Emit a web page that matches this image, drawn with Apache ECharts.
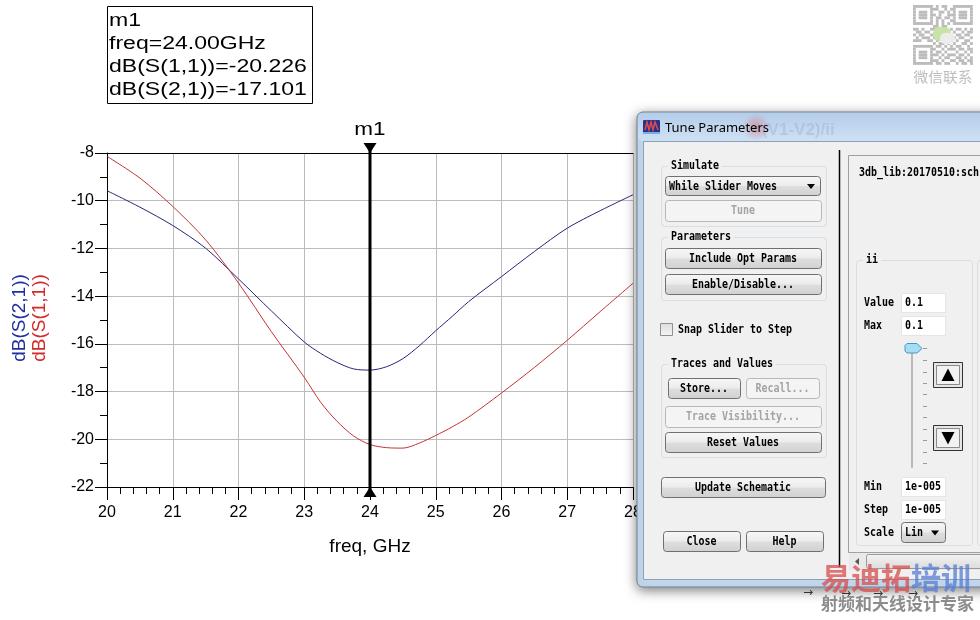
<!DOCTYPE html>
<html><head><meta charset="utf-8">
<script src="https://cdn.jsdelivr.net/npm/echarts@6/dist/echarts.min.js"></script>
<style>html,body{margin:0;padding:0;background:#fff}#c{width:980px;height:620px}</style>
</head><body><div id="c"></div>
<script>
// ---- data ----
const freqGHz = [20, 20.5, 21, 21.5, 22, 22.5, 23, 23.25, 23.5, 23.75, 24, 24.25, 24.5, 24.75, 25, 25.25, 25.5, 26, 26.5, 27, 27.5, 28];
const dB_S21 = [-9.58, -10.27, -11.04, -11.99, -13.28, -14.62, -15.92, -16.40, -16.78, -17.05, -17.10, -16.96, -16.62, -16.08, -15.45, -14.85, -14.23, -13.18, -12.13, -11.15, -10.42, -9.75];
const dB_S11 = [-8.14, -9.05, -10.24, -11.64, -13.45, -15.49, -17.40, -18.45, -19.25, -19.86, -20.22, -20.35, -20.37, -20.16, -19.84, -19.48, -19.07, -18.06, -16.99, -15.85, -14.65, -13.46];
const xRange = [20, 28];
const yRange = [-22, -8];
const markerFreq = 24;
const markerName = 'm1';
const markerLines = ['m1', 'freq=24.00GHz', 'dB(S(1,1))=-20.226', 'dB(S(2,1))=-17.101'];
const yTitles = ['dB(S(2,1))', 'dB(S(1,1))'];
const xTitle = 'freq, GHz';

const SANS = '"Liberation Sans", Arial, sans-serif';
const MONO = '"DejaVu Sans Mono", monospace';
const CJK = '"Noto Sans CJK SC", sans-serif';
const BLUE = '#25257c', RED = '#c23434';

const chart = echarts.init(document.getElementById('c'), null, {renderer: 'canvas'});
const axisBlack = {color: '#000', width: 1};
chart.setOption({
  animation: false,
  backgroundColor: '#fff',
  grid: {left: 107, top: 153, right: 347, bottom: 133, containLabel: false, outerBoundsMode: 'none'},
  xAxis: [{
    type: 'value', min: xRange[0], max: xRange[1], interval: 1, position: 'bottom',
    axisLine: {show: true, onZero: false, lineStyle: axisBlack},
    axisTick: {show: true, length: 13, lineStyle: axisBlack},
    minorTick: {show: true, splitNumber: 5, length: 7, lineStyle: axisBlack},
    axisLabel: {color: '#000', fontSize: 16, fontFamily: SANS, margin: 18},
    splitLine: {show: true, lineStyle: {color: '#bcbcbc', width: 1}},
    minorSplitLine: {show: false},
    name: xTitle, nameLocation: 'middle', nameGap: 50,
    nameTextStyle: {color: '#000', fontSize: 19, fontFamily: SANS}
  }, {
    type: 'value', min: xRange[0], max: xRange[1], position: 'top',
    axisLine: {show: true, onZero: false, lineStyle: axisBlack},
    axisTick: {show: false}, axisLabel: {show: false}, splitLine: {show: false}
  }],
  yAxis: {
    type: 'value', min: yRange[0], max: yRange[1], interval: 2,
    axisLine: {show: true, onZero: false, lineStyle: axisBlack},
    axisTick: {show: true, length: 12, lineStyle: axisBlack},
    minorTick: {show: true, splitNumber: 2, length: 7, lineStyle: axisBlack},
    axisLabel: {color: '#000', fontSize: 16, fontFamily: SANS, margin: 13},
    splitLine: {show: true, lineStyle: {color: '#bcbcbc', width: 1}},
    minorSplitLine: {show: false}
  },
  series: [{
    name: 'dB(S(2,1))', type: 'line', data: freqGHz.map((f, i) => [f, dB_S21[i]]),
    smooth: 0.3, symbol: 'none', lineStyle: {color: BLUE, width: 1}, itemStyle: {color: BLUE}, z: 3
  }, {
    name: 'dB(S(1,1))', type: 'line', data: freqGHz.map((f, i) => [f, dB_S11[i]]),
    smooth: 0.3, symbol: 'none', lineStyle: {color: RED, width: 1}, itemStyle: {color: RED}, z: 3
  }]
});

// ---- graphics ----
const G = [];
let z2 = 0;
function push(el, z) { el.z = z == null ? 100 : z; el.z2 = z2++; G.push(el); }
function rect(x, y, w, h, style, r, z) { push({type: 'rect', shape: {x, y, width: w, height: h, r: r || 0}, style}, z); }
function line(x1, y1, x2, y2, stroke, lw, z) { push({type: 'line', shape: {x1, y1, x2, y2}, style: {stroke, lineWidth: lw || 1}}, z); }
function poly(points, style, z) { push({type: 'polygon', shape: {points}, style}, z); }
function text(x, y, s, o, z) {
  o = o || {};
  const al = o.align || 'left';
  const st = {text: s, fill: o.fill || '#000', fontSize: o.size || 12, fontFamily: o.family || MONO,
      fontWeight: o.weight || (o.family ? 'normal' : 'bold'), align: al, verticalAlign: 'middle', textAlign: al, textVerticalAlign: 'middle'};
  if (o.blur) { st.textShadowBlur = o.blur; st.textShadowColor = o.fill; }
  push({type: 'text', x, y, rotation: o.rot || 0, scaleX: o.sx == null ? 0.83 : o.sx, style: st}, z);
}
function grad(c) { return new echarts.graphic.LinearGradient(0, 0, 0, 1, c.map((col, i) => ({offset: i / (c.length - 1), color: col}))); }
function btnFill() { return new echarts.graphic.LinearGradient(0, 0, 0, 1, [
  {offset: 0, color: '#f7f7f7'}, {offset: 0.48, color: '#ececec'}, {offset: 0.52, color: '#dedede'}, {offset: 1, color: '#d0d0d0'}]); }
function button(x, y, w, h, label, disabled) {
  rect(x + .5, y + .5, w, h, {fill: disabled ? '#f4f4f4' : btnFill(), stroke: disabled ? '#b5b9bc' : '#707070', lineWidth: 1}, 3);
  text(x + w / 2, y + h / 2 + 0.5, label, {align: 'center', fill: disabled ? '#a3a3a3' : '#000'});
}
function group(x, y, w, h, label) {
  rect(x + .5, y + .5, w, h, {fill: 'none', stroke: '#d5dfe5', lineWidth: 1}, 3);
  rect(x + 7, y - 6, label.length * 6 + 6, 12, {fill: '#f0f0f0'});
  text(x + 10, y, label);
}
function input(x, y, w, h, val) {
  rect(x + .5, y + .5, w, h, {fill: '#fff', stroke: '#e2e6ea', lineWidth: 1});
  text(x + 4, y + h / 2 + 0.5, val);
}

// marker (positions from the chart's own scales)
const pTop = chart.convertToPixel({gridIndex: 0}, [markerFreq, yRange[1]]);
const pBot = chart.convertToPixel({gridIndex: 0}, [markerFreq, yRange[0]]);
const mx = pTop[0];
line(mx, pTop[1] - 10, mx, pBot[1] + 10, '#000', 3, 10);
poly([[mx - 6.5, pTop[1] - 10], [mx + 6.5, pTop[1] - 10], [mx, pTop[1]]], {fill: '#000'}, 10);
poly([[mx - 6.5, pBot[1] + 10], [mx + 6.5, pBot[1] + 10], [mx, pBot[1]]], {fill: '#000'}, 10);
text(mx, pTop[1] - 23, markerName, {family: SANS, size: 18, sx: 1.25, align: 'center'}, 10);

// marker readout box
rect(107.5, 6.5, 205, 97, {fill: '#fff', stroke: '#000', lineWidth: 1}, null, 10);
const boxY = [21.5, 44.5, 67.5, 90.5];
markerLines.forEach((s, i) => text(109, boxY[i], s, {family: SANS, size: 18, sx: 1.28}, 10));

// y titles
text(19.5, 318, yTitles[0], {family: SANS, size: 19, sx: 1, rot: Math.PI / 2, align: 'center', fill: '#1f2fa3'}, 10);
text(40, 318, yTitles[1], {family: SANS, size: 19, sx: 1, rot: Math.PI / 2, align: 'center', fill: '#d42a2a'}, 10);

// QR code decoration (top-right)
const qr = [
 '111111101011001111111','100000111001011000001','101110100110101011101','101110110100111011101',
 '101110101101101011101','100000101010011000001','111111101010101111111','000000011011000000000',
 '110100111010010110101','011011001101101001011','101100110011010110110','010111010100101011001',
 '111001101011110100110','000000010110101001101','111111101101010110010','100000110010111011011',
 '101110101101000100101','101110111010111011010','101110100101100110101','100000111010011011011',
 '111111101101100101101'];
const qs = 2.85;
qr.forEach((row, r) => {
  let c = 0;
  while (c < row.length) {
    if (row[c] === '1') { let e = c; while (e < row.length && row[e] === '1') e++;
      rect(913 + c * qs, 5 + r * qs, (e - c) * qs, qs, {fill: '#bcbcbc'}, 0, 5); c = e; } else c++;
  }
});
rect(933, 27, 18, 14, {fill: '#c9e2a6'}, 6, 6);
rect(940, 33, 15, 11, {fill: '#ececec'}, 5, 6);
text(943, 77, '微信联系', {family: CJK, size: 14, sx: 1.05, align: 'center', fill: '#bdbdbd'}, 5);

// ---- Tune Parameters dialog ----
rect(637, 112, 360, 475, {fill: '#c6daef', stroke: '#6f8399', lineWidth: 1, shadowBlur: 12, shadowColor: 'rgba(0,0,0,0.5)', shadowOffsetY: 3}, 6);
rect(638, 113, 350, 28, {fill: grad(['#b4cdea', '#c2d7ef', '#cfe0f3'])}, 5);
rect(724, 113, 64, 28, {fill: new echarts.graphic.RadialGradient(0.5, 0.5, 0.5, [
  {offset: 0, color: 'rgba(214,110,116,0.55)'}, {offset: 0.6, color: 'rgba(214,120,126,0.25)'}, {offset: 1, color: 'rgba(214,130,136,0)'}])});
text(752, 130, '=(V1-V2)/ii', {family: SANS, size: 17, sx: 1, weight: 'bold', fill: 'rgba(70,80,130,0.13)', blur: 6});
rect(643, 120, 17, 14, {fill: '#25338f'}, 1);
push({type: 'polyline', shape: {points: [[645, 130], [647, 122], [649, 130], [651, 122], [653, 130], [655, 122], [658, 130]]}, style: {stroke: '#e24a4a', lineWidth: 1.5, fill: 'none'}});
line(643, 133, 660, 133, '#6fb2e8', 2);
text(665, 128, 'Tune Parameters', {family: '"Noto Sans", sans-serif', size: 13, sx: 1, fill: '#000'});
rect(643.5, 141.5, 345, 438, {fill: '#f0f0f0', stroke: '#8aa0b8', lineWidth: 1});

// left panel
group(661, 166, 165, 60, 'Simulate');
rect(665.5, 176.5, 155, 19, {fill: btnFill(), stroke: '#707070', lineWidth: 1}, 3);
text(669, 186.5, 'While Slider Moves');
poly([[807, 184], [815, 184], [811, 189]], {fill: '#000'});
button(665, 200, 156, 21, 'Tune', true);
group(661, 237, 165, 63, 'Parameters');
button(665, 248, 156, 20, 'Include Opt Params');
button(665, 274, 156, 20, 'Enable/Disable...');
rect(660.5, 323.5, 12, 12, {fill: grad(['#dcdcdc', '#f6f6f6']), stroke: '#8e8f8f', lineWidth: 1});
text(678, 329.5, 'Snap Slider to Step');
group(661, 364, 165, 93, 'Traces and Values');
button(668, 378, 72, 20, 'Store...');
button(746, 378, 73, 20, 'Recall...', true);
button(665, 406, 156, 21, 'Trace Visibility...', true);
button(665, 432, 156, 20, 'Reset Values');
button(661, 477, 164, 20, 'Update Schematic');
button(663, 531, 77, 20, 'Close');
button(746, 531, 77, 20, 'Help');
line(839.5, 150, 839.5, 567, '#000', 1.5);

// right panel
rect(848.5, 155.5, 150, 397, {fill: '#f0f0f0', stroke: '#a0a0a0', lineWidth: 1});
text(859, 172.5, '3db_lib:20170510:sch');
group(856, 260, 116, 285, 'ii');
rect(977.5, 260.5, 20, 285, {fill: 'none', stroke: '#d5dfe5', lineWidth: 1}, 3);
text(864, 302.5, 'Value'); input(901, 293, 44, 19, '0.1');
text(864, 325.5, 'Max'); input(901, 316, 44, 19, '0.1');
line(912, 353, 912, 468, '#a9a9a9', 1.5);
poly([[907, 343.5], [917, 343.5], [922, 348.5], [917, 353], [907, 353], [905, 351], [905, 345.5]], {fill: '#a3def3', stroke: '#4a98c2', lineWidth: 1});
[348, 360, 372, 383, 394, 406, 417, 429, 440, 452, 463].forEach(y => line(923, y + .5, 927, y + .5, '#9a9a9a', 1));
rect(933.5, 362.5, 29, 25, {fill: '#e6e6e6', stroke: '#333', lineWidth: 1});
rect(936.5, 365.5, 23, 19, {fill: '#f2f2f2', stroke: '#8a8a8a', lineWidth: 1});
poly([[948, 368.5], [941.5, 381], [954.5, 381]], {fill: '#000'});
rect(933.5, 425.5, 29, 25, {fill: '#e6e6e6', stroke: '#333', lineWidth: 1});
rect(936.5, 428.5, 23, 19, {fill: '#f2f2f2', stroke: '#8a8a8a', lineWidth: 1});
poly([[941.5, 432], [954.5, 432], [948, 444.5]], {fill: '#000'});
text(864, 486.5, 'Min'); input(901, 477, 44, 19, '1e-005');
text(864, 509.5, 'Step'); input(901, 500, 44, 19, '1e-005');
text(864, 532.5, 'Scale');
rect(901.5, 522.5, 44, 20, {fill: btnFill(), stroke: '#707070', lineWidth: 1}, 3);
text(905, 532.5, 'Lin');
poly([[931, 530.5], [939, 530.5], [935, 535.5]], {fill: '#000'});
rect(849, 553, 140, 17, {fill: '#e9e9e9'});
poly([[855, 561.5], [859, 558], [859, 565]], {fill: '#555'});
rect(866.5, 554.5, 130, 14, {fill: grad(['#f3f3f3', '#dcdcdc']), stroke: '#9a9a9a', lineWidth: 1}, 2);

// bits of background below the dialog + watermark
[[803, 593], [841, 594], [873, 594], [908, 594]].forEach(p => text(p[0], p[1], '→', {family: '"DejaVu Sans", sans-serif', size: 12, sx: 1, fill: '#333'}, 120));
text(821, 578, '易迪拓', {family: CJK, size: 30, sx: 1, weight: 'bold', fill: 'rgba(216,76,76,0.75)'}, 130);
text(911, 578, '培训', {family: CJK, size: 30, sx: 1, weight: 'bold', fill: 'rgba(84,124,212,0.75)'}, 130);
text(821, 604, '射频和天线设计专家', {family: CJK, size: 17, sx: 1, weight: 'bold', fill: '#8c8c8c'}, 130);

chart.setOption({graphic: {elements: G}});
</script>
</body></html>
